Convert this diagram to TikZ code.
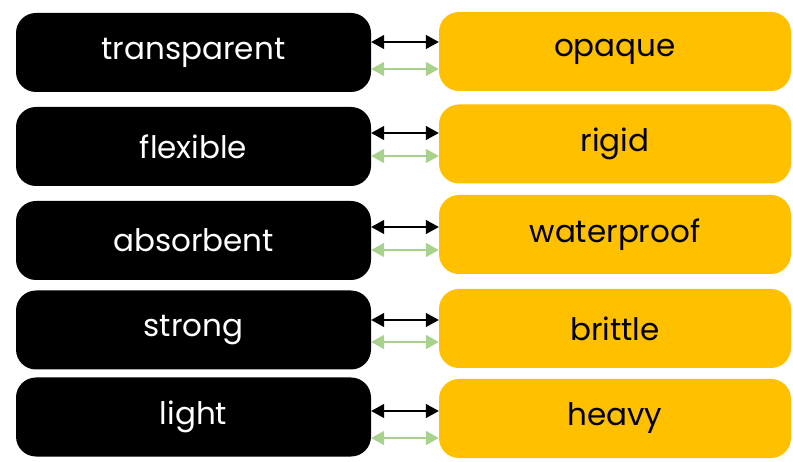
\documentclass[tikz,border=0pt]{standalone}
\usepackage{fontspec}
\setmainfont{Poppins}
\usetikzlibrary{arrows.meta}
\definecolor{oppback}{RGB}{255,192,0}
\definecolor{oppgreen}{RGB}{169,209,142}

\begin{document}
\begin{tikzpicture}[x=1pt,y=-1pt,
  leftbox/.style={fill=black,text=white,rounded corners=20pt,minimum width=355pt,minimum height=79pt,font=\fontsize{31}{34}\selectfont},
  rightbox/.style={fill=oppback,text=black,rounded corners=20pt,minimum width=352pt,minimum height=79pt,font=\fontsize{31}{34}\selectfont},
  linkblack/.style={{Triangle[length=13pt,width=14pt]}-{Triangle[length=13pt,width=14pt]},line width=1.4pt,black},
  linkgreen/.style={{Triangle[length=13pt,width=14pt]}-{Triangle[length=13pt,width=14pt]},line width=1.8pt,oppgreen}]
\useasboundingbox (0,0) rectangle (793,462);

\node [leftbox] (transparent) at (193.5,52.5) {transparent};
\node [leftbox] (flexible) at (193.5,146.5) {flexible};
\node [leftbox] (absorbent) at (193.5,240.5) {absorbent};
\node [leftbox] (strong) at (193.5,330) {strong};
\node [leftbox] (light) at (193.5,417) {light};

\node [rightbox] (opaque) at (615,51.5) {opaque};
\node [rightbox] (rigid) at (615,144) {rigid};
\node [rightbox] (waterproof) at (615,234.5) {waterproof};
\node [rightbox] (brittle) at (615,328.5) {brittle};
\node [rightbox] (heavy) at (615,418.5) {heavy};

\draw [linkblack] (transparent.east |- 0,42) -- (opaque.west |- 0,42);
\draw [linkgreen] (transparent.east |- 0,69) -- (opaque.west |- 0,69);
\draw [linkblack] (flexible.east |- 0,133) -- (rigid.west |- 0,133);
\draw [linkgreen] (flexible.east |- 0,156) -- (rigid.west |- 0,156);
\draw [linkblack] (absorbent.east |- 0,227) -- (waterproof.west |- 0,227);
\draw [linkgreen] (absorbent.east |- 0,250) -- (waterproof.west |- 0,250);
\draw [linkblack] (strong.east |- 0,320) -- (brittle.west |- 0,320);
\draw [linkgreen] (strong.east |- 0,342) -- (brittle.west |- 0,342);
\draw [linkblack] (light.east |- 0,411) -- (heavy.west |- 0,411);
\draw [linkgreen] (light.east |- 0,438) -- (heavy.west |- 0,438);
\end{tikzpicture}
\end{document}
